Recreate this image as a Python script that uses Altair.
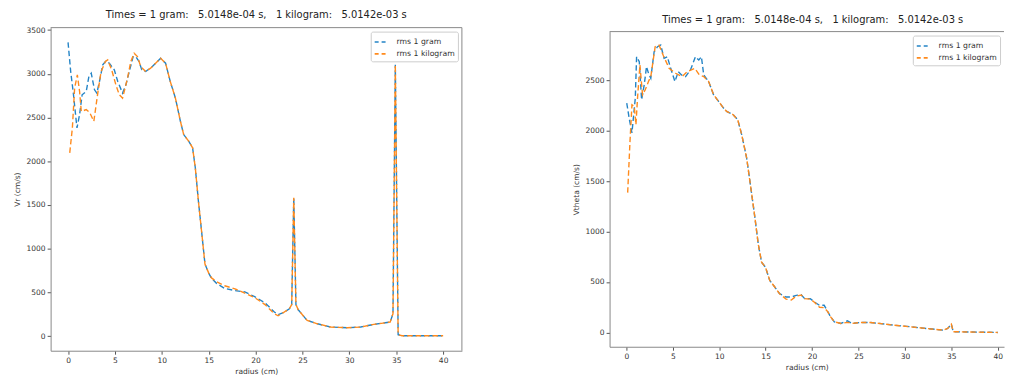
import altair as alt
import pandas as pd

# ---------------- data ----------------
series_names = ["rms 1 gram", "rms 1 kilogram"]
series_colors = ["#2384c6", "#ff8a1c"]

x_ticks = [0, 5, 10, 15, 20, 25, 30, 35, 40]
vr_ticks = [0, 500, 1000, 1500, 2000, 2500, 3000, 3500]
vt_ticks = [0, 500, 1000, 1500, 2000, 2500]

title_text = "Times = 1 gram:\u00a0\u00a0 5.0148e-04 s,\u00a0\u00a0 1 kilogram:\u00a0\u00a0 5.0142e-03 s"

# Vr panel, inner part (differs between runs)
vr_head_r_gram = [0.0, 0.28, 0.55, 0.95, 1.23, 1.5, 1.94, 2.22, 2.47, 2.82, 3.07, 3.35,
                  3.7, 4.05, 4.4, 4.93, 5.3, 5.81, 6.17, 6.62, 6.94, 7.22, 7.58, 7.86,
                  8.28, 8.99, 9.87, 10.4]
vr_head_gram = [3360, 3026, 2790, 2380, 2533, 2760, 2798, 2969, 3007, 2817, 2779, 2912,
                3102, 3148, 3121, 3045, 2912, 2779, 2874, 3064, 3197, 3197, 3140, 3045,
                3026, 3083, 3178, 3121]
vr_head_r_kg = [0.18, 0.46, 0.7, 0.99, 1.23, 1.41, 1.94, 2.29, 2.75, 3.17, 3.52, 3.98,
                4.23, 4.65, 5.1, 5.46, 5.81, 6.34, 6.69, 7.05, 7.4, 7.75, 8.28, 8.8,
                9.34, 9.87, 10.4]
vr_head_kg = [2096, 2381, 2836, 2988, 2798, 2570, 2590, 2560, 2457, 2779, 3026, 3140,
              3159, 3045, 2874, 2760, 2722, 2950, 3140, 3235, 3197, 3083, 3026, 3064,
              3121, 3178, 3121]

# Vr panel, outer part (shared radii)
vr_tail_r = [10.9, 11.45, 11.98, 12.33, 12.86, 13.28, 13.57, 13.9, 14.27, 14.6, 15.0,
             15.3, 15.86, 16.7, 17.8, 18.85, 19.9, 21.0, 22.0, 22.4, 23.0, 23.6, 23.85,
             24.07, 24.3, 24.55, 25.5, 26.6, 28.0, 29.8, 31.2, 32.6, 34.35, 34.65, 34.9,
             35.2, 35.6, 40.0]
vr_tail_gram = [2912, 2722, 2457, 2305, 2229, 2153, 1925, 1545, 1166, 824, 720,
                660, 600, 545, 520, 505, 450, 380, 275, 245, 270, 312, 360,
                1583, 360, 300, 178, 140, 103, 95, 103, 133, 160, 254, 3102,
                15, 3, 3]
vr_tail_kg = [2912, 2722, 2457, 2305, 2229, 2153, 1925, 1545, 1166, 824, 720,
              665, 620, 575, 540, 490, 440, 360, 255, 232, 270, 312, 360,
              1583, 360, 300, 178, 140, 103, 95, 103, 133, 160, 254, 3102,
              15, 3, 3]

# Vtheta panel, inner part
vt_head_r_gram = [0.04, 0.3, 0.6, 0.96, 1.1, 1.39, 1.64, 1.92, 2.17, 2.38, 2.63, 2.99,
                  3.35, 3.7, 4.06, 4.41, 4.77, 5.23, 5.59, 5.94, 6.37, 6.9, 7.44, 7.8,
                  8.08, 8.33]
vt_head_gram = [2273, 2125, 1978, 2322, 2733, 2684, 2306, 2454, 2635, 2569, 2520, 2782,
                2832, 2848, 2717, 2733, 2618, 2487, 2585, 2552, 2536, 2602, 2733, 2700,
                2733, 2552]
vt_head_r_kg = [0.14, 0.39, 0.6, 0.85, 1.03, 1.2, 1.46, 1.74, 2.03, 2.38, 2.63, 3.1,
                3.52, 4.0, 4.6, 5.3, 6.0, 6.55, 7.37, 7.86, 8.33]
vt_head_kg = [1386, 1895, 2257, 2240, 2060, 2322, 2651, 2355, 2405, 2487, 2536, 2832,
              2848, 2740, 2618, 2569, 2536, 2585, 2618, 2552, 2536]

# Vtheta panel, outer part (shared radii)
vt_tail_r = [8.86, 9.4, 9.93, 10.46, 10.8, 11.5, 11.99, 12.42, 12.95, 13.4, 13.84, 14.2,
             14.56, 14.98, 15.44, 15.98, 16.5, 17.2, 17.76, 18.29, 18.83, 19.2, 19.8,
             20.25, 20.8, 21.3, 21.7, 22.0, 22.4, 23.1, 23.8, 24.3, 25.2, 26.3, 28.8,
             30.6, 32.3, 34.1, 34.6, 35.0, 35.2, 40.0]
vt_tail_gram = [2487, 2355, 2290, 2224, 2191, 2158, 2109, 1961, 1731, 1436, 1140, 877,
                696, 647, 516, 450, 384, 351, 351, 368, 374, 335, 335,
                302, 269, 269, 204, 154, 105, 89, 115, 89, 99, 99, 72,
                56, 39, 23, 39, 82, 7, 0]
vt_tail_kg = [2487, 2355, 2290, 2224, 2191, 2158, 2109, 1961, 1731, 1436, 1140, 877,
              696, 647, 516, 450, 384, 330, 322, 360, 370, 335, 330,
              300, 250, 245, 204, 154, 105, 89, 100, 89, 99, 99, 72,
              56, 39, 23, 39, 82, 7, 0]

FONT = "DejaVu Sans"
TXT = "#333333"
FRAME = "#888888"
DASH = [5.5, 3]


def frame_df(r, v, name):
    return pd.DataFrame({"r": r, "v": v, "series": name})


def panel(df_g, df_k, ylabel, yticks, ydom, xdom, w, h, right_edge=True, title_dx=0):
    color = alt.Color(
        "series:N",
        scale=alt.Scale(domain=series_names, range=series_colors),
        legend=alt.Legend(
            orient="top-right", offset=4, title=None,
            symbolType="stroke", symbolDash=[4, 3], symbolStrokeWidth=1.6,
            symbolSize=170, labelFontSize=7.8, labelFont=FONT, labelColor=TXT,
            fillColor="white", strokeColor="#cccccc", padding=3, cornerRadius=2,
            rowPadding=0, labelOffset=8,
        ),
    )
    xenc = alt.X("r:Q", scale=alt.Scale(domain=xdom, nice=False, zero=False),
                 axis=alt.Axis(values=x_ticks, title="radius (cm)", format="d"))
    yenc = alt.Y("v:Q", scale=alt.Scale(domain=ydom, nice=False, zero=False),
                 axis=alt.Axis(values=yticks, title=ylabel, format="d"))
    line_g = alt.Chart(df_g).mark_line(strokeDash=DASH, strokeWidth=1.4, clip=True).encode(
        x=xenc, y=yenc, color=color)
    line_k = alt.Chart(df_k).mark_line(strokeDash=DASH, strokeWidth=1.4, clip=True).encode(
        x="r:Q", y="v:Q", color=alt.Color("series:N"))
    dummy = pd.DataFrame({"k": [0]})
    top = alt.Chart(dummy).mark_rule(color=FRAME, strokeWidth=1).encode(
        x=alt.value(0), x2=alt.value(w), y=alt.value(0))
    layers = [line_g, line_k, top]
    if right_edge:
        rgt = alt.Chart(dummy).mark_rule(color=FRAME, strokeWidth=1).encode(
            x=alt.value(w), y=alt.value(0), y2=alt.value(h))
        layers.append(rgt)
    return alt.layer(*layers).properties(
        width=w, height=h,
        title=alt.TitleParams(title_text, fontSize=10, font=FONT, fontWeight="normal",
                              color="#222222", offset=6, dx=title_dx),
    )


vr_g = frame_df(vr_head_r_gram + vr_tail_r, vr_head_gram + vr_tail_gram, series_names[0])
vr_k = frame_df(vr_head_r_kg + vr_tail_r, vr_head_kg + vr_tail_kg, series_names[1])
vt_g = frame_df(vt_head_r_gram + vt_tail_r, vt_head_gram + vt_tail_gram, series_names[0])
vt_k = frame_df(vt_head_r_kg + vt_tail_r, vt_head_kg + vt_tail_kg, series_names[1])

left = panel(vr_g, vr_k, "Vr (cm/s)", vr_ticks, [-168, 3528], [-1.86, 42.0], 415, 326)
right = panel(vt_g, vt_k, "Vtheta (cm/s)", vt_ticks, [-142, 2982], [-1.81, 40.67], 398, 318,
              right_edge=False, title_dx=6)

chart = alt.hconcat(left, right, spacing=110, center=True).resolve_scale(
    color="independent").resolve_legend(color="independent").properties(
    padding={"left": 5, "top": 0, "right": 0, "bottom": 0}
).configure_view(stroke=None).configure_axis(
    grid=False, labelFont=FONT, titleFont=FONT, labelFontSize=7.6, titleFontSize=7.6,
    labelColor=TXT, titleColor=TXT, titleFontWeight="normal", domainColor=FRAME,
    tickColor="#555555", tickSize=3.5, labelPadding=2, titlePadding=4,
).configure_axisY(labelPadding=2, titlePadding=5)

chart.save("out.html", embed_options={"renderer": "svg", "actions": False})
